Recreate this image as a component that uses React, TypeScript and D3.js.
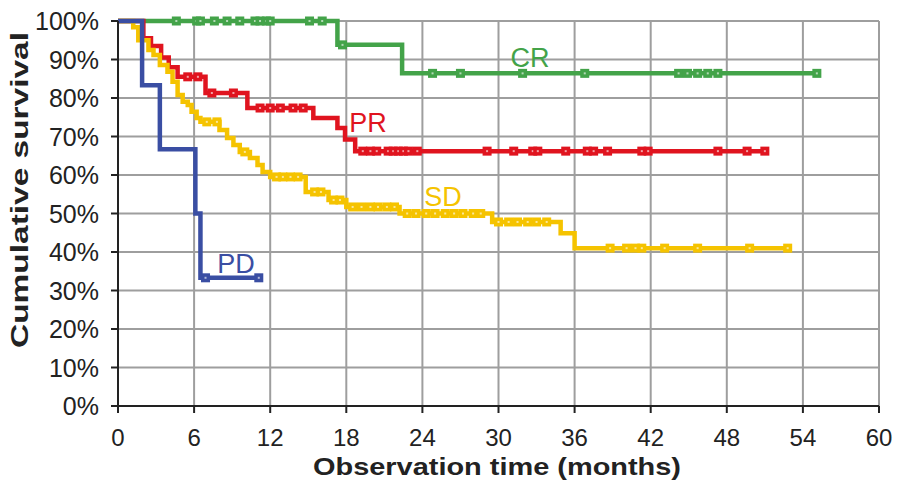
import React, { useEffect } from 'react';
import * as d3 from 'd3';

// Kaplan-Meier curves: [month, survival %] at each drop
const crEvents = [[17.3, 93.8], [22.4, 86.4]];
const crCensored = [4.6, 6.2, 6.5, 7.6, 8.6, 9.6, 10.8, 11.2, 11.7, 12.0, 15.1, 16.1, 17.7,
  24.8, 27.0, 31.9, 36.8, 44.2, 44.9, 45.7, 46.5, 47.3, 55.1];

const prEvents = [[2.0, 95.5], [2.6, 93.5], [3.4, 90.5], [4.0, 88], [4.7, 85.5], [6.9, 81.3],
  [10.2, 77.4], [15.4, 74.8], [17.3, 72.2], [17.9, 69.2], [18.7, 66.2]];
const prCensored = [5.5, 6.3, 7.4, 9.1, 11.2, 12.0, 12.8, 13.8, 14.6, 19.3, 19.9, 20.4, 21.3, 21.7,
  22.1, 22.5, 22.9, 23.6, 29.1, 31.2, 32.7, 33.1, 35.3, 37.0, 37.5, 38.6, 41.3, 41.8, 47.3, 49.6, 51.0];

const sdEvents = [[1.2, 98.4], [1.6, 95], [2.4, 92.5], [2.8, 91.2], [3.3, 88.6], [3.9, 86.8], [4.3, 84.2],
  [4.7, 80.8], [5.1, 79], [5.5, 78.2], [5.8, 76.4], [6.2, 74.8], [6.5, 73.8], [8.0, 71.7], [8.6, 69.6],
  [9.1, 67.8], [9.6, 66], [10.4, 64.4], [11.0, 62.6], [11.4, 60.8], [12.0, 59.5], [14.8, 55.6],
  [16.6, 53.5], [18.0, 51.7], [22.2, 50], [29.5, 47.8], [34.9, 44.9], [36.0, 41]];
const sdCensored = [7.0, 7.8, 10.0, 12.5, 13.0, 13.6, 14.2, 15.5, 16.0, 17.0, 17.5, 18.5, 19.2, 19.9,
  20.5, 21.2, 21.8, 22.8, 23.5, 24.3, 25.0, 25.8, 26.5, 27.2, 28.0, 28.6, 30.0, 30.8, 31.5, 32.3, 33.0,
  33.8, 38.8, 40.1, 40.8, 41.3, 43.1, 45.7, 49.8, 52.8];

const pdEvents = [[1.9, 83.3], [3.3, 66.7], [6.1, 50], [6.5, 33.3]];
const pdCensored = [6.9, 11.1];

const groups = [
  { name: 'CR', events: crEvents, censored: crCensored, color: '#43a349', label: [530, 57] },
  { name: 'PR', events: prEvents, censored: prCensored, color: '#e0141f', label: [368, 122] },
  { name: 'SD', events: sdEvents, censored: sdCensored, color: '#f5c300', label: [443, 196] },
  { name: 'PD', events: pdEvents, censored: pdCensored, color: '#3a4ea3', label: [236, 263] },
];

const xTicks = d3.range(0, 61, 6);
const yTicks = d3.range(0, 101, 10);

const App: React.FC = () => {
  useEffect(() => {
    document.body.style.margin = '0';
  }, []);

  const width = 899;
  const height = 483;
  const x = d3.scaleLinear().domain([0, 60]).range([118, 879]);
  const y = d3.scaleLinear().domain([0, 100]).range([406, 21]);

  const survivalAt = (events: number[][], t: number) => {
    let s = 100;
    events.forEach(e => { if (e[0] <= t) s = e[1]; });
    return s;
  };

  const line = d3.line<number[]>()
    .x(d => x(d[0]))
    .y(d => y(d[1]))
    .curve(d3.curveStepAfter);

  const font = '"Liberation Sans", Arial, sans-serif';

  return (
    <svg width={width} height={height} style={{ display: 'block', background: '#fff' }}>
      {/* grid */}
      {yTicks.map(t => (
        <line key={'gy' + t} x1={x(0)} x2={x(60)} y1={y(t)} y2={y(t)} stroke="#9e9e9e" strokeWidth={2} />
      ))}
      {xTicks.map(t => (
        <line key={'gx' + t} x1={x(t)} x2={x(t)} y1={y(0)} y2={y(100)} stroke="#9e9e9e" strokeWidth={2} />
      ))}

      {/* curves */}
      {groups.map(g => {
        const end = d3.max(g.censored) as number;
        const pts = [[0, 100], ...g.events, [end, g.events[g.events.length - 1][1]]];
        return (
          <g key={g.name}>
            <path d={line(pts) || ''} fill="none" stroke={g.color} strokeWidth={4.5} strokeLinejoin="miter" />
            {g.censored.map((c, i) => {
              const cx = x(c);
              const cy = y(survivalAt(g.events, c));
              return (
                <g key={i}>
                  <rect x={cx - 4.5} y={cy - 4.5} width={9} height={9} fill={g.color} />
                  <rect x={cx - 1} y={cy - 1} width={2} height={2} fill="#fff" opacity={0.6} />
                </g>
              );
            })}
          </g>
        );
      })}

      {/* axes */}
      <line x1={x(0)} x2={x(0)} y1={y(100)} y2={y(0)} stroke="#222" strokeWidth={2} />
      <line x1={x(0)} x2={x(60)} y1={y(0)} y2={y(0)} stroke="#222" strokeWidth={2} />
      {yTicks.map(t => (
        <g key={'ty' + t}>
          <line x1={x(0) - 7} x2={x(0)} y1={y(t)} y2={y(t)} stroke="#222" strokeWidth={2} />
          <text x={99} y={y(t)} dy="0.36em" textAnchor="end" fontSize={25} fill="#222" fontFamily={font}>
            {t + '%'}
          </text>
        </g>
      ))}
      {xTicks.map(t => (
        <g key={'tx' + t}>
          <line x1={x(t)} x2={x(t)} y1={y(0)} y2={y(0) + 7} stroke="#222" strokeWidth={2} />
          <text x={x(t)} y={437} dy="0.36em" textAnchor="middle" fontSize={24} fill="#222" fontFamily={font}>
            {t}
          </text>
        </g>
      ))}

      {/* axis titles */}
      <text x={497} y={466} dy="0.36em" textAnchor="middle" fontSize={24} fontWeight="bold" fill="#222"
        fontFamily={font} textLength={368} lengthAdjust="spacingAndGlyphs">
        Observation time (months)
      </text>
      <text transform="translate(19,190) rotate(-90)" dy="0.36em" textAnchor="middle" fontSize={24} fontWeight="bold"
        fill="#222" fontFamily={font} textLength={316} lengthAdjust="spacingAndGlyphs">
        Cumulative survival
      </text>

      {/* group labels */}
      {groups.map(g => (
        <text key={'l' + g.name} x={g.label[0]} y={g.label[1]} dy="0.36em" textAnchor="middle" fontSize={27} fill={g.color} fontFamily={font}>
          {g.name}
        </text>
      ))}
    </svg>
  );
};

export default App;
